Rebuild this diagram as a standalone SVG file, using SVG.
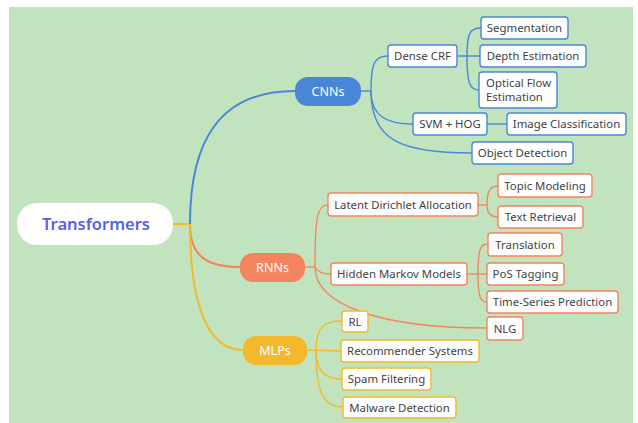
<svg xmlns="http://www.w3.org/2000/svg" width="638" height="423" viewBox="0 0 638 423">
<style>
text{font-family:"Noto Sans","Open Sans","DejaVu Sans",sans-serif;}
.leaf text{font-size:11.4px;fill:#3f3f3f;text-anchor:middle;}
.b rect{fill:#fff;stroke:#4a86d8;stroke-width:1.4;}
.r rect{fill:#fff;stroke:#f4845f;stroke-width:1.4;}
.y rect{fill:#fff;stroke:#f3b82b;stroke-width:1.4;}
.main text{font-size:12.5px;fill:#fff;text-anchor:middle;}
.cb{fill:none;stroke:#4a86d8;stroke-width:1.4;}
.cr{fill:none;stroke:#f4845f;stroke-width:1.4;}
.cy{fill:none;stroke:#f3b82b;stroke-width:1.4;}
</style>
<rect x="0" y="0" width="638" height="423" fill="#ffffff"/>
<rect x="9" y="7" width="624" height="416" fill="#c1e4bf"/>
<g id="connectors">
<path class="cy" d="M173,224 L190,224" style="stroke-width:2"/>
<path class="cb" d="M190,224 C190,140 220,91 295,91" style="stroke-width:2"/>
<path class="cr" d="M190,224 C190,255 205,267 240,267" style="stroke-width:2"/>
<path class="cy" d="M190,224 C190,310 210,350 243,350" style="stroke-width:2"/>
<path class="cb" d="M361,91 L371,91"/>
<path class="cb" d="M371,91 C371,62 375,56 388,56"/>
<path class="cb" d="M371,91 C371,115 385,124 413,124"/>
<path class="cb" d="M371,91 C371,140 400,153 472,153"/>
<path class="cb" d="M457,56 L480,56"/>
<path class="cb" d="M467,56 C467,33 470,28 481,28"/>
<path class="cb" d="M467,56 C467,84 470,90 479,90"/>
<path class="cb" d="M487,124 L507,124"/>
<path class="cr" d="M305,267 L315,267"/>
<path class="cr" d="M315,267 C315,214 318,205 328,205"/>
<path class="cr" d="M315,267 C318,273 324,274 331,274"/>
<path class="cr" d="M315,267 C315,305 380,328 487,328"/>
<path class="cr" d="M478,205 L487,205"/>
<path class="cr" d="M487,205 C487,191 490,186 498,186"/>
<path class="cr" d="M487,205 C487,213 490,217 498,217"/>
<path class="cr" d="M467,274 L487,274"/>
<path class="cr" d="M478,274 C478,250 480,244 488,244"/>
<path class="cr" d="M478,274 C478,296 480,302 487,302"/>
<path class="cy" d="M307,350 L341,351"/>
<path class="cy" d="M316,350 C316,326 325,321 342,321"/>
<path class="cy" d="M316,350 C316,372 325,379 342,379"/>
<path class="cy" d="M316,350 C316,396 325,407 343,407"/>
</g>
<g id="transformers">
<rect x="17" y="203" width="156" height="42" rx="20" fill="#ffffff"/>
<text x="96" y="230" font-size="16.5" font-weight="600" fill="#5560ee" text-anchor="middle">Transformers</text>
</g>
<g id="cnns" class="main">
<rect x="295" y="77" width="66" height="29" rx="13" fill="#4a86d8"/>
<text x="328" y="96">CNNs</text>
</g>
<g id="rnns" class="main">
<rect x="240" y="253" width="65" height="29" rx="13" fill="#f4845f"/>
<text x="272.5" y="272">RNNs</text>
</g>
<g id="mlps" class="main">
<rect x="243" y="336" width="64" height="29" rx="13" fill="#f3b82b"/>
<text x="275" y="355">MLPs</text>
</g>
<g id="dense-crf" class="leaf b"><rect x="388" y="45" width="69" height="22" rx="3"/><text x="422.5" y="60">Dense CRF</text></g>
<g id="svm-hog" class="leaf b"><rect x="413" y="113" width="74" height="22" rx="3"/><text x="450" y="128">SVM + HOG</text></g>
<g id="object-detection" class="leaf b"><rect x="472" y="142" width="101" height="22" rx="3"/><text x="522.5" y="157">Object Detection</text></g>
<g id="segmentation" class="leaf b"><rect x="481" y="17" width="87" height="22" rx="3"/><text x="524.5" y="32">Segmentation</text></g>
<g id="depth-estimation" class="leaf b"><rect x="480" y="45" width="106" height="22" rx="3"/><text x="533" y="60">Depth Estimation</text></g>
<g id="optical-flow" class="leaf b"><rect x="479" y="72" width="78" height="36" rx="3"/><text x="486" y="86.5" style="text-anchor:start">Optical Flow</text><text x="486" y="101" style="text-anchor:start">Estimation</text></g>
<g id="image-classification" class="leaf b"><rect x="507" y="113" width="119" height="22" rx="3"/><text x="566.5" y="128">Image Classification</text></g>
<g id="lda" class="leaf r"><rect x="328" y="193" width="150" height="23" rx="3"/><text x="403" y="209">Latent Dirichlet Allocation</text></g>
<g id="hmm" class="leaf r"><rect x="331" y="263" width="136" height="22" rx="3"/><text x="399" y="278">Hidden Markov Models</text></g>
<g id="nlg" class="leaf r"><rect x="487" y="317" width="36" height="23" rx="3"/><text x="505" y="333">NLG</text></g>
<g id="topic-modeling" class="leaf r"><rect x="498" y="174" width="94" height="23" rx="3"/><text x="545" y="190">Topic Modeling</text></g>
<g id="text-retrieval" class="leaf r"><rect x="498" y="206" width="85" height="22" rx="3"/><text x="540.5" y="221">Text Retrieval</text></g>
<g id="translation" class="leaf r"><rect x="488" y="233" width="74" height="23" rx="3"/><text x="525" y="249">Translation</text></g>
<g id="pos-tagging" class="leaf r"><rect x="487" y="263" width="77" height="22" rx="3"/><text x="525.5" y="278">PoS Tagging</text></g>
<g id="time-series" class="leaf r"><rect x="487" y="291" width="131" height="22" rx="3"/><text x="552.5" y="306">Time-Series Prediction</text></g>
<g id="rl" class="leaf y"><rect x="342" y="311" width="26" height="21" rx="3"/><text x="355" y="326">RL</text></g>
<g id="recommender" class="leaf y"><rect x="341" y="340" width="138" height="22" rx="3"/><text x="410" y="355">Recommender Systems</text></g>
<g id="spam" class="leaf y"><rect x="342" y="368" width="89" height="22" rx="3"/><text x="386.5" y="383">Spam Filtering</text></g>
<g id="malware" class="leaf y"><rect x="343" y="397" width="113" height="21" rx="3"/><text x="399.5" y="412">Malware Detection</text></g>
</svg>
